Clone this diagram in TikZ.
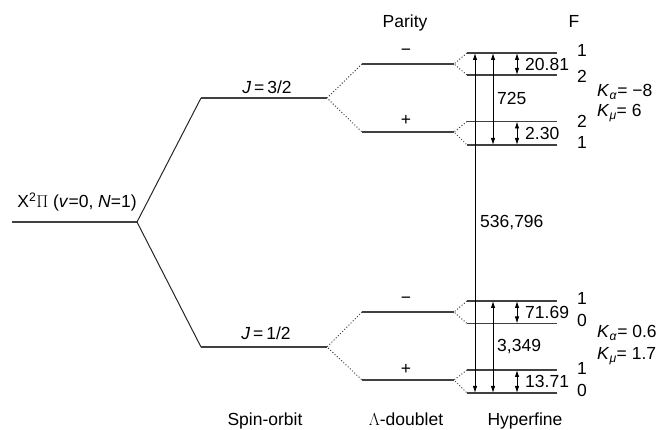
\documentclass[tikz,border=0pt]{standalone}
\usepackage{fontspec}
\setmainfont{Liberation Sans}
\usetikzlibrary{arrows.meta,positioning}

\tikzset{
  level/.style={line width=1.3pt, black!75},
  fan/.style={line width=1pt, black!85},
  split/.style={line width=1pt, dotted, black!75},
  gap/.style={line width=0.9pt, {Latex[length=7pt,width=4.5pt]}-{Latex[length=7pt,width=4.5pt]}},
  lbl/.style={font=\fontsize{17.5}{20}\selectfont, inner sep=0pt},
}

\begin{document}
\begin{tikzpicture}[x=1pt,y=-1pt]
\useasboundingbox (0,0) rectangle (662,430);
% ground state, spin-orbit and Lambda-doublet levels
\coordinate (g0) at (12,222);   \coordinate (g1) at (137,222);
\coordinate (a0) at (201,98);   \coordinate (a1) at (327,98);
\coordinate (b0) at (201,347);  \coordinate (b1) at (327,347);
\coordinate (am0) at (362,64);  \coordinate (am1) at (454,64);
\coordinate (ap0) at (362,132); \coordinate (ap1) at (454,132);
\coordinate (bm0) at (362,312); \coordinate (bm1) at (454,312);
\coordinate (bp0) at (362,380); \coordinate (bp1) at (454,380);
\draw[level] (g0) -- (g1);
\draw[fan] (g1) -- (a0);
\draw[fan] (g1) -- (b0);
\draw[level] (a0) -- (a1);
\draw[level] (b0) -- (b1);
\foreach \s in {am,ap,bm,bp} {
  \draw[level] (\s0) -- (\s1);
}
\draw[split] (am0) -- (a1) -- (ap0);
\draw[split] (bm0) -- (b1) -- (bp0);
% hyperfine levels
\foreach \n/\y in {1/53,2/75,3/121.5,4/145,5/301,6/323.5,7/370,8/393} {
  \coordinate (h\n) at (467,\y);
  \coordinate (e\n) at (557,\y);
  \draw[level] (h\n) -- (e\n);
}
\draw[split] (h1) -- (am1) -- (h2);
\draw[split] (h3) -- (ap1) -- (h4);
\draw[split] (h5) -- (bm1) -- (h6);
\draw[split] (h7) -- (bp1) -- (h8);
% splittings
\draw[gap] ([xshift=8pt]h1) -- ([xshift=8pt]h8);
\draw[gap] ([xshift=26pt]h1) -- ([xshift=26pt]h4);
\draw[gap] ([xshift=26pt]h5) -- ([xshift=26pt]h8);
\draw[gap] ([xshift=50pt]h1) -- ([xshift=50pt]h2);
\draw[gap] ([xshift=50pt]h3) -- ([xshift=50pt]h4);
\draw[gap] ([xshift=50pt]h5) -- ([xshift=50pt]h6);
\draw[gap] ([xshift=50pt]h7) -- ([xshift=50pt]h8);
\node[lbl, anchor=west] (big) at (480,223) {536,796};
\node[lbl, anchor=west] (lam1) at (497,98) {725};
\node[lbl, anchor=west] (lam2) at (497,347) {3,349};
\node[lbl, anchor=west] (hf1) at (525,64) {20.81};
\node[lbl, anchor=west] (hf2) at (525,133) {2.30};
\node[lbl, anchor=west] (hf3) at (525,312) {71.69};
\node[lbl, anchor=west] (hf4) at (525,381) {13.71};
% F numbers
\foreach \n/\y/\f in {1/50/1,2/76/2,3/121/2,4/142/1,5/298/1,6/320/0,7/368/1,8/390/0} {
  \node[lbl] (f\n) at (582,\y) {\f};
}
\node[lbl, anchor=west] (ka1) at (597,92) {\textit{K}\textsubscript{\textit{α}}= −8};
\node[lbl, anchor=west] (km1) at (597,113) {\textit{K}\textsubscript{\textit{μ}}= 6};
\node[lbl, anchor=west] (ka2) at (597,333) {\textit{K}\textsubscript{\textit{α}}= 0.6};
\node[lbl, anchor=west] (km2) at (597,356) {\textit{K}\textsubscript{\textit{μ}}= 1.7};
% parity
\node[lbl] (pm1) at (406,52) {−};
\node[lbl] (pp1) at (406,120) {+};
\node[lbl] (pm2) at (406,300) {−};
\node[lbl] (pp2) at (406,369) {+};
% level labels
\node[lbl, anchor=base] (gs) at (77,208) {X\textsuperscript{2}$\Pi$ (\textit{v}=0, \textit{N}=1)};
\node[lbl, anchor=base] (j32) at (267,94) {\textit{J}\,=\,3/2};
\node[lbl, anchor=base] (j12) at (266,340) {\textit{J}\,=\,1/2};
% headers
\node[lbl, anchor=base] (par) at (405,28) {Parity};
\node[lbl, anchor=base] (fh) at (574,28) {F};
\node[lbl, anchor=base] (so) at (265,426) {Spin-orbit};
\node[lbl, anchor=base] (ld) at (406,426) {$\Lambda$-doublet};
\node[lbl, anchor=base] (hfs) at (525,426) {Hyperfine};
\end{tikzpicture}
\end{document}
